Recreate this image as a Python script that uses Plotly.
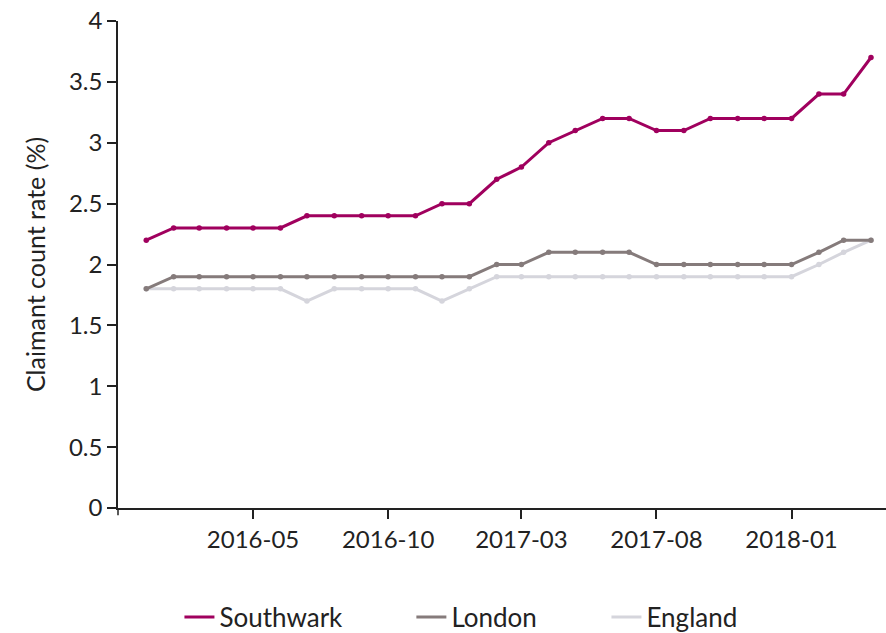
import plotly.graph_objects as go

# monthly claimant count rate (%)
months = [
    '2016-01-01', '2016-02-01', '2016-03-01', '2016-04-01', '2016-05-01', '2016-06-01', '2016-07-01',
    '2016-08-01', '2016-09-01', '2016-10-01', '2016-11-01', '2016-12-01', '2017-01-01', '2017-02-01',
    '2017-03-01', '2017-04-01', '2017-05-01', '2017-06-01', '2017-07-01', '2017-08-01', '2017-09-01',
    '2017-10-01', '2017-11-01', '2017-12-01', '2018-01-01', '2018-02-01', '2018-03-01', '2018-04-01',
]
tick_months = ['2016-05-01', '2016-10-01', '2017-03-01', '2017-08-01', '2018-01-01']
tick_labels = ['2016-05', '2016-10', '2017-03', '2017-08', '2018-01']

southwark = [2.2, 2.3, 2.3, 2.3, 2.3, 2.3, 2.4, 2.4, 2.4, 2.4, 2.4, 2.5, 2.5, 2.7,
             2.8, 3.0, 3.1, 3.2, 3.2, 3.1, 3.1, 3.2, 3.2, 3.2, 3.2, 3.4, 3.4, 3.7]
london = [1.8, 1.9, 1.9, 1.9, 1.9, 1.9, 1.9, 1.9, 1.9, 1.9, 1.9, 1.9, 1.9, 2.0,
          2.0, 2.1, 2.1, 2.1, 2.1, 2.0, 2.0, 2.0, 2.0, 2.0, 2.0, 2.1, 2.2, 2.2]
england = [1.8, 1.8, 1.8, 1.8, 1.8, 1.8, 1.7, 1.8, 1.8, 1.8, 1.8, 1.7, 1.8, 1.9,
           1.9, 1.9, 1.9, 1.9, 1.9, 1.9, 1.9, 1.9, 1.9, 1.9, 1.9, 2.0, 2.1, 2.2]

series = [
    ('Southwark', southwark, '#a0005e', 'legend'),
    ('London', london, '#857b7b', 'legend2'),
    ('England', england, '#d5d5dc', 'legend3'),
]

fig = go.Figure()
# England first so the darker lines sit on top
for name, vals, col, leg in reversed(series):
    fig.add_trace(go.Scatter(
        x=months, y=vals, name=name, mode='lines', legend=leg,
        line=dict(color=col, width=3),
    ))
    fig.add_trace(go.Scatter(
        x=months, y=vals, mode='markers', showlegend=False,
        marker=dict(color=col, size=5.5), hoverinfo='skip',
    ))

# plot area 118..886 x 21..508; legend rows centred near y=617
leg_style = dict(orientation='h', y=-109 / 487, yanchor='middle', xanchor='left',
                 font=dict(size=26), bgcolor='rgba(0,0,0,0)')
# figure a bit taller than the window so the big legend never squeezes the plot
fig.update_layout(
    width=886, height=650,
    margin=dict(l=118, r=0, t=21, b=142),
    plot_bgcolor='white', paper_bgcolor='white',
    font=dict(family='Lato', size=21, color='#222'),
    showlegend=True,
    legend=dict(x=0.080, **leg_style),
    legend2=dict(x=0.382, **leg_style),
    legend3=dict(x=0.636, **leg_style),
)
fig.update_xaxes(
    type='date', range=['2015-11-30', '2018-04-18'],
    tickvals=tick_months, ticktext=tick_labels, tickfont=dict(size=24),
    showgrid=False, showline=True, linecolor='#222', linewidth=1.5,
    ticks='outside', ticklen=9, tickcolor='#222', tickwidth=1.5,
    ticklabelstandoff=0, zeroline=False, automargin=False,
)
fig.update_yaxes(
    range=[0, 4], dtick=0.5, tickfont=dict(size=24), showgrid=False, showline=True,
    linecolor='#222', linewidth=1.5, ticks='outside', ticklen=9,
    tickcolor='#222', tickwidth=1.5, zeroline=False, automargin=False,
    title=dict(text='Claimant count rate (%)', font=dict(size=25), standoff=16),
)
# small stub below the axis corner
fig.add_shape(type='line', xref='paper', yref='paper', x0=0, x1=0, y0=0, y1=-0.015,
              line=dict(color='#222', width=1.5))

# drop the browser's default body margin so the figure sits at the window corner
fig.write_html("out.html", config={'displayModeBar': False},
               post_script="document.body.style.margin='0';")
